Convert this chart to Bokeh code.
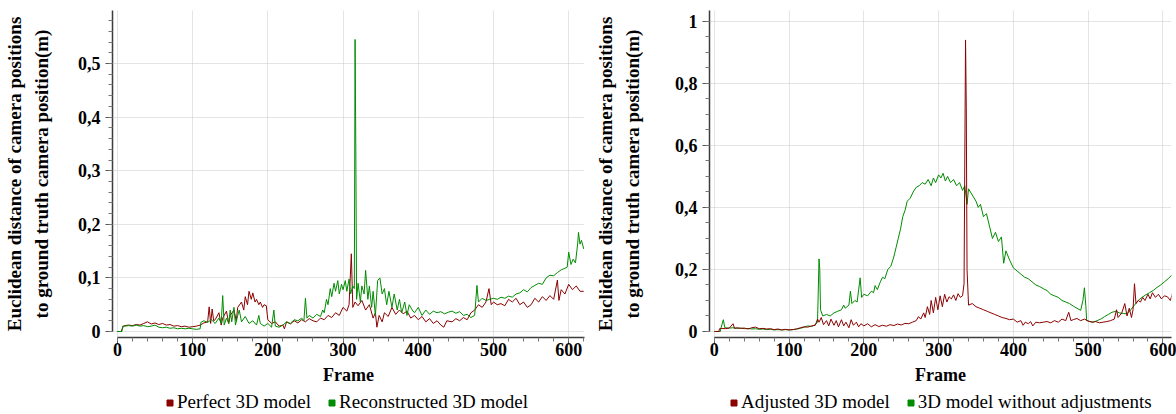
from bokeh.plotting import figure
from bokeh.layouts import row, column
from bokeh.models import FixedTicker, CustomJSTickFormatter, Legend, LegendItem
from bokeh.embed import file_html
from bokeh.resources import INLINE

# ---------------- data (frame, distance in m) ----------------
perfect_model = [
    (0, 0.0), (5, 0.0), (8, 0.010), (10, 0.011), (15, 0.012), (20, 0.011), (25, 0.013), (30, 0.012),
    (35, 0.015), (40, 0.018), (45, 0.014), (50, 0.016), (55, 0.013), (60, 0.015), (65, 0.012),
    (70, 0.013), (75, 0.010), (80, 0.011), (85, 0.009), (90, 0.010), (95, 0.008), (100, 0.009),
    (105, 0.010), (110, 0.012), (115, 0.016), (120, 0.018), (122, 0.046), (124, 0.015), (126, 0.042),
    (128, 0.020), (130, 0.022), (135, 0.035), (138, 0.012), (140, 0.025), (145, 0.038), (148, 0.015),
    (150, 0.030), (155, 0.040), (158, 0.020), (160, 0.045), (165, 0.055), (168, 0.040), (170, 0.065),
    (173, 0.050), (175, 0.075), (178, 0.060), (180, 0.072), (183, 0.055), (185, 0.060), (188, 0.050),
    (190, 0.055), (193, 0.045), (195, 0.050), (198, 0.048), (200, 0.022), (205, 0.015), (210, 0.018),
    (215, 0.010), (220, 0.012), (222, 0.005), (225, 0.018), (230, 0.014), (235, 0.020), (240, 0.016),
    (245, 0.022), (250, 0.018), (255, 0.024), (260, 0.020), (265, 0.018), (270, 0.025), (275, 0.022),
    (280, 0.030), (285, 0.026), (290, 0.035), (295, 0.030), (300, 0.045), (305, 0.038), (308, 0.050),
    (311, 0.145), (313, 0.045), (316, 0.055), (320, 0.048), (325, 0.058), (330, 0.040), (335, 0.050),
    (340, 0.025), (343, 0.035), (345, 0.008), (348, 0.030), (352, 0.018), (355, 0.035), (360, 0.028),
    (365, 0.045), (370, 0.032), (375, 0.040), (380, 0.033), (385, 0.038), (390, 0.025), (395, 0.030),
    (400, 0.022), (405, 0.028), (410, 0.018), (415, 0.024), (420, 0.015), (425, 0.020), (430, 0.012),
    (434, 0.008), (438, 0.020), (445, 0.018), (450, 0.024), (455, 0.020), (460, 0.026), (465, 0.022),
    (470, 0.035), (475, 0.040), (480, 0.050), (485, 0.045), (490, 0.055), (494, 0.080), (497, 0.050),
    (500, 0.055), (505, 0.050), (510, 0.052), (515, 0.048), (520, 0.060), (525, 0.055), (530, 0.062),
    (535, 0.050), (540, 0.055), (545, 0.045), (550, 0.050), (555, 0.062), (560, 0.055), (565, 0.065),
    (570, 0.058), (575, 0.067), (580, 0.060), (585, 0.096), (587, 0.058), (590, 0.078), (595, 0.070),
    (600, 0.088), (605, 0.078), (610, 0.085), (615, 0.075), (620, 0.075),
]

reconstructed_model = [
    (0, 0.0), (6, 0.0), (7, 0.010), (10, 0.010), (15, 0.011), (20, 0.010), (25, 0.012), (30, 0.010),
    (35, 0.011), (40, 0.009), (45, 0.010), (50, 0.012), (55, 0.008), (60, 0.007), (65, 0.008),
    (70, 0.006), (75, 0.007), (80, 0.005), (85, 0.006), (90, 0.005), (95, 0.006), (100, 0.005),
    (105, 0.004), (110, 0.005), (111, 0.017), (115, 0.020), (120, 0.017), (125, 0.022), (130, 0.015),
    (135, 0.025), (138, 0.015), (140, 0.067), (142, 0.012), (145, 0.025), (148, 0.015), (150, 0.040),
    (152, 0.018), (155, 0.045), (157, 0.012), (160, 0.030), (162, 0.040), (165, 0.018), (170, 0.028),
    (175, 0.015), (180, 0.020), (185, 0.012), (188, 0.030), (190, 0.015), (195, 0.010), (200, 0.015),
    (205, 0.008), (208, 0.040), (210, 0.010), (215, 0.008), (220, 0.012), (225, 0.018), (230, 0.015),
    (235, 0.022), (240, 0.020), (245, 0.025), (248, 0.020), (250, 0.062), (252, 0.025), (255, 0.030),
    (260, 0.025), (265, 0.032), (270, 0.028), (273, 0.040), (275, 0.035), (278, 0.060), (280, 0.050),
    (283, 0.080), (285, 0.065), (288, 0.090), (290, 0.075), (293, 0.095), (295, 0.070), (298, 0.088),
    (300, 0.078), (303, 0.095), (305, 0.075), (308, 0.098), (310, 0.070), (313, 0.085), (315, 0.080),
    (316, 0.545), (317, 0.335), (318, 0.060), (320, 0.090), (323, 0.055), (325, 0.085), (328, 0.070),
    (330, 0.114), (333, 0.060), (335, 0.085), (338, 0.045), (340, 0.075), (343, 0.030), (346, 0.095),
    (349, 0.100), (352, 0.070), (355, 0.080), (358, 0.050), (361, 0.075), (365, 0.045), (368, 0.070),
    (372, 0.040), (375, 0.060), (378, 0.035), (382, 0.055), (385, 0.030), (388, 0.050), (392, 0.040),
    (395, 0.035), (400, 0.045), (405, 0.030), (410, 0.040), (415, 0.032), (420, 0.038), (425, 0.035),
    (430, 0.037), (435, 0.033), (440, 0.036), (445, 0.038), (450, 0.034), (455, 0.037), (460, 0.030),
    (465, 0.032), (470, 0.026), (475, 0.030), (478, 0.086), (480, 0.055), (485, 0.062), (490, 0.058),
    (495, 0.060), (500, 0.062), (505, 0.060), (510, 0.064), (515, 0.062), (520, 0.066), (525, 0.064),
    (530, 0.070), (535, 0.072), (540, 0.078), (545, 0.074), (550, 0.082), (555, 0.086), (560, 0.090),
    (565, 0.088), (570, 0.100), (575, 0.105), (580, 0.104), (585, 0.110), (590, 0.115), (595, 0.118),
    (598, 0.120), (600, 0.148), (603, 0.125), (606, 0.135), (609, 0.128), (612, 0.165), (613, 0.185),
    (615, 0.163), (617, 0.170), (620, 0.154),
]

adjusted_model = [
    (0, 0.0), (6, 0.0), (7, 0.009), (10, 0.010), (15, 0.009), (20, 0.011), (25, 0.025), (27, 0.010),
    (30, 0.012), (35, 0.010), (40, 0.011), (45, 0.008), (50, 0.012), (55, 0.014), (60, 0.009),
    (65, 0.010), (70, 0.008), (75, 0.009), (80, 0.006), (85, 0.008), (90, 0.005), (95, 0.007),
    (100, 0.005), (105, 0.006), (110, 0.008), (115, 0.012), (120, 0.015), (125, 0.014), (130, 0.018),
    (135, 0.020), (138, 0.040), (140, 0.030), (143, 0.045), (146, 0.022), (150, 0.035), (153, 0.018),
    (156, 0.040), (160, 0.020), (163, 0.035), (166, 0.015), (170, 0.038), (173, 0.018), (176, 0.030),
    (180, 0.012), (183, 0.038), (186, 0.020), (190, 0.030), (193, 0.015), (196, 0.025), (200, 0.018),
    (205, 0.025), (210, 0.015), (215, 0.022), (220, 0.016), (225, 0.020), (230, 0.017), (235, 0.022),
    (240, 0.019), (245, 0.024), (250, 0.021), (255, 0.026), (260, 0.025), (265, 0.030), (270, 0.035),
    (273, 0.048), (276, 0.040), (280, 0.060), (282, 0.045), (285, 0.080), (288, 0.055), (290, 0.100),
    (293, 0.060), (296, 0.110), (299, 0.070), (302, 0.115), (305, 0.080), (308, 0.120), (311, 0.095),
    (314, 0.112), (317, 0.105), (320, 0.118), (323, 0.100), (326, 0.122), (329, 0.110), (332, 0.115),
    (334, 0.154), (336, 0.940), (337, 0.720), (338, 0.200), (340, 0.085), (345, 0.090), (350, 0.080),
    (355, 0.075), (360, 0.070), (365, 0.065), (370, 0.060), (375, 0.055), (380, 0.050), (385, 0.045),
    (390, 0.042), (395, 0.038), (400, 0.040), (405, 0.030), (410, 0.035), (413, 0.020), (416, 0.030),
    (420, 0.025), (423, 0.032), (426, 0.018), (430, 0.030), (435, 0.028), (440, 0.030), (445, 0.032),
    (450, 0.028), (455, 0.035), (460, 0.030), (465, 0.040), (470, 0.035), (474, 0.062), (477, 0.035),
    (480, 0.038), (485, 0.042), (490, 0.035), (495, 0.040), (500, 0.034), (505, 0.030), (510, 0.032),
    (515, 0.028), (520, 0.030), (525, 0.032), (530, 0.035), (535, 0.040), (538, 0.070), (540, 0.045),
    (545, 0.060), (549, 0.090), (552, 0.050), (555, 0.075), (558, 0.045), (560, 0.070), (562, 0.154),
    (564, 0.090), (567, 0.100), (570, 0.095), (573, 0.110), (576, 0.100), (580, 0.120), (583, 0.105),
    (586, 0.125), (590, 0.110), (594, 0.120), (598, 0.105), (602, 0.115), (606, 0.112), (610, 0.100),
    (613, 0.125), (617, 0.130), (620, 0.125),
]

unadjusted_model = [
    (0, 0.0), (8, 0.0), (9, 0.012), (12, 0.038), (14, 0.012), (20, 0.011), (25, 0.012), (30, 0.010),
    (35, 0.011), (40, 0.009), (45, 0.010), (50, 0.008), (55, 0.009), (60, 0.007), (65, 0.008),
    (70, 0.006), (75, 0.007), (80, 0.005), (85, 0.006), (90, 0.005), (95, 0.006), (100, 0.005),
    (105, 0.006), (110, 0.008), (115, 0.010), (120, 0.014), (125, 0.018), (130, 0.016), (135, 0.022),
    (138, 0.030), (140, 0.234), (141, 0.200), (142, 0.070), (145, 0.050), (150, 0.055), (155, 0.050),
    (160, 0.060), (165, 0.065), (170, 0.070), (173, 0.085), (175, 0.075), (180, 0.085), (182, 0.130),
    (184, 0.090), (188, 0.100), (191, 0.095), (195, 0.173), (197, 0.110), (200, 0.120), (205, 0.115),
    (210, 0.130), (213, 0.125), (215, 0.148), (218, 0.135), (222, 0.160), (225, 0.175), (228, 0.170),
    (232, 0.200), (236, 0.210), (240, 0.240), (243, 0.270), (246, 0.300), (249, 0.330), (252, 0.370),
    (255, 0.390), (258, 0.420), (262, 0.430), (266, 0.450), (270, 0.465), (274, 0.470), (278, 0.480),
    (282, 0.475), (286, 0.490), (290, 0.470), (293, 0.495), (296, 0.480), (300, 0.505), (303, 0.495),
    (306, 0.510), (309, 0.485), (312, 0.500), (316, 0.480), (320, 0.490), (324, 0.470), (328, 0.480),
    (332, 0.455), (335, 0.470), (338, 0.410), (340, 0.460), (345, 0.440), (350, 0.420), (353, 0.400),
    (356, 0.410), (360, 0.370), (364, 0.380), (368, 0.340), (372, 0.300), (376, 0.320), (380, 0.290),
    (384, 0.305), (387, 0.220), (390, 0.260), (395, 0.230), (400, 0.205), (405, 0.195), (410, 0.185),
    (415, 0.175), (420, 0.170), (425, 0.160), (430, 0.150), (435, 0.145), (440, 0.138), (445, 0.132),
    (450, 0.120), (455, 0.115), (460, 0.110), (465, 0.100), (470, 0.095), (475, 0.090), (480, 0.082),
    (485, 0.075), (490, 0.068), (493, 0.100), (495, 0.141), (497, 0.080), (498, 0.035), (502, 0.032),
    (507, 0.030), (512, 0.035), (517, 0.040), (522, 0.048), (527, 0.055), (532, 0.062), (537, 0.065),
    (542, 0.060), (547, 0.058), (552, 0.057), (557, 0.070), (562, 0.085), (567, 0.100), (572, 0.110),
    (577, 0.118), (582, 0.125), (587, 0.132), (592, 0.142), (597, 0.150), (602, 0.160), (607, 0.170),
    (612, 0.182), (617, 0.188), (620, 0.190),
]

x_ticks = [0, 100, 200, 300, 400, 500, 600]
left_y_ticks = [0, 0.1, 0.2, 0.3, 0.4, 0.5]
right_y_ticks = [0, 0.2, 0.4, 0.6, 0.8, 1.0]
y_title = "Euclidean distance of camera positions\nto ground truth camera position(m)"
x_title = "Frame"
left_names = ["Perfect 3D model", "Reconstructed 3D model"]
right_names = ["Adjusted 3D model", "3D model without adjustments"]

# ---------------- styling ----------------
RED = "#8b0000"
GREEN = "#008c00"
FONT = "Liberation Serif"


def panel(series_a, series_b, y_range, y_ticks, y_minor, x_end, frame_width,
          border_left, border_right, label_standoff, green_on_top=True):
    p = figure(frame_width=frame_width, frame_height=327,
               x_range=(-6.5, x_end), y_range=y_range,
               output_backend="svg", toolbar_location=None,
               min_border_left=border_left, min_border_right=border_right,
               min_border_top=10, min_border_bottom=54,
               outline_line_color=None, background_fill_color="white",
               border_fill_color="white")

    def draw(series, color):
        return p.line([d[0] for d in series], [d[1] for d in series],
                      line_color=color, line_width=1)

    if green_on_top:
        draw(series_a, RED)
        draw(series_b, GREEN)
    else:
        draw(series_b, GREEN)
        draw(series_a, RED)

    xa = p.xaxis[0]
    ya = p.yaxis[0]
    xa.ticker = FixedTicker(ticks=x_ticks, minor_ticks=list(range(0, 621, 20)))
    ya.ticker = FixedTicker(ticks=y_ticks, minor_ticks=y_minor)
    ya.formatter = CustomJSTickFormatter(
        code="return (Math.round(tick*100)/100).toString().replace('.', ',');")
    xa.bounds = (0, 621)
    ya.bounds = (0, y_range[1])
    for ax in (xa, ya):
        ax.axis_line_color = "#3c3c3c"
        ax.axis_line_width = 1.5
        ax.major_tick_in = 0
        ax.major_tick_out = 7
        ax.minor_tick_in = 0
        ax.minor_tick_out = 4
        ax.major_tick_line_color = "#555555"
        ax.minor_tick_line_color = "#777777"
        ax.major_label_text_font = FONT
        ax.major_label_text_font_style = "bold"
        ax.major_label_text_font_size = "18px"
        ax.major_label_text_color = "black"
        ax.axis_label_text_font = FONT
        ax.axis_label_text_font_style = "bold"
        ax.axis_label_text_color = "black"
    xa.axis_label = x_title
    xa.axis_label_text_font_size = "18px"
    xa.axis_label_standoff = 6
    xa.major_label_standoff = -2
    ya.axis_label = y_title
    ya.axis_label_text_font_size = "19px"
    ya.axis_label_text_line_height = 1.28
    ya.axis_label_standoff = label_standoff
    ya.major_label_standoff = 5

    p.xgrid.ticker = xa.ticker
    p.ygrid.ticker = ya.ticker
    for g in (p.xgrid[0], p.ygrid[0]):
        g.grid_line_color = "#c8c8c8"
        g.grid_line_dash = "1 1"
        g.grid_line_width = 1
    return p


def legend_strip(names, width, x_offset):
    # strip below a panel; its frame is aligned with the panel's frame by the column layout
    q = figure(width=width, height=23, output_backend="svg", toolbar_location=None,
               x_axis_location=None, y_axis_location=None,
               x_range=(0, 1), y_range=(0, 1),
               min_border_left=0, min_border_right=0, min_border_top=0, min_border_bottom=0,
               outline_line_color=None, background_fill_color="white",
               border_fill_color="white")
    q.xgrid.visible = False
    q.ygrid.visible = False
    # zero-size proxy markers: only their legend swatches are seen
    ka = q.scatter([0.5], [0.5], marker="square", size=0, color=RED)
    kb = q.scatter([0.5], [0.5], marker="square", size=0, color=GREEN)
    leg = Legend(items=[LegendItem(label=names[0], renderers=[ka]),
                        LegendItem(label=names[1], renderers=[kb])],
                 orientation="horizontal", location=(x_offset, 1),
                 glyph_width=15, glyph_height=15, label_standoff=0,
                 spacing=13, padding=0, margin=0,
                 border_line_color=None, background_fill_alpha=0,
                 label_text_font=FONT, label_text_font_size="19px",
                 label_text_color="black", label_height=15)
    q.add_layout(leg, "center")
    return q


left = panel(perfect_model, reconstructed_model, (-0.0112, 0.599), left_y_ticks,
             [round(i * 0.02, 2) for i in range(0, 30)], 621, 472, 112, 8, 23,
             green_on_top=True)
right = panel(adjusted_model, unadjusted_model, (-0.0194, 1.035), right_y_ticks,
              [round(i * 0.05, 2) for i in range(0, 21)], 611.5, 462, 116, 6, 29,
              green_on_top=False)
left_key = legend_strip(left_names, 592, 50)
right_key = legend_strip(right_names, 584, 17)

layout = row(column(left, left_key), column(right, right_key))
open("out.html", "w").write(file_html(layout, INLINE))
